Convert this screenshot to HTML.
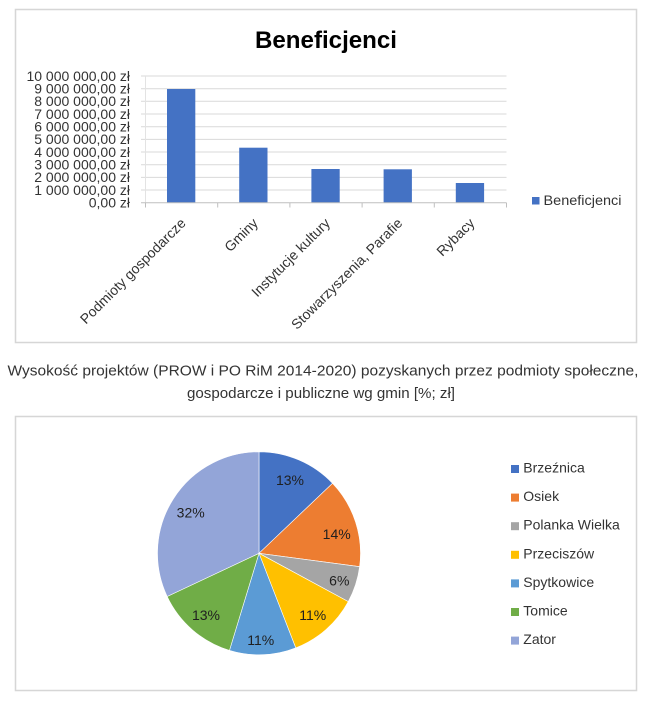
<!DOCTYPE html>
<html>
<head>
<meta charset="utf-8">
<style>
html,body{margin:0;padding:0;background:#fff;}
svg{display:block;}
text{font-family:"Liberation Sans","DejaVu Sans",sans-serif;}
</style>
</head>
<body>
<svg width="648" height="702" viewBox="0 0 648 702" xmlns="http://www.w3.org/2000/svg">
  <rect x="0" y="0" width="648" height="702" fill="#fff"/>

  <!-- ===== Top chart frame ===== -->
  <rect x="15.5" y="9.5" width="621" height="333" fill="#fff" stroke="#d6d6d6" stroke-width="1.5"/>

  <!-- Title -->
  <text x="326" y="48" font-size="24" font-weight="bold" fill="#000" text-anchor="middle" textLength="142" lengthAdjust="spacingAndGlyphs">Beneficjenci</text>

  <!-- Gridlines -->
  <g stroke="#d9d9d9" stroke-width="1">
    <line x1="141" y1="76" x2="506.5" y2="76"/>
    <line x1="141" y1="88.7" x2="506.5" y2="88.7"/>
    <line x1="141" y1="101.3" x2="506.5" y2="101.3"/>
    <line x1="141" y1="114" x2="506.5" y2="114"/>
    <line x1="141" y1="126.7" x2="506.5" y2="126.7"/>
    <line x1="141" y1="139.4" x2="506.5" y2="139.4"/>
    <line x1="141" y1="152" x2="506.5" y2="152"/>
    <line x1="141" y1="164.7" x2="506.5" y2="164.7"/>
    <line x1="141" y1="177.4" x2="506.5" y2="177.4"/>
    <line x1="141" y1="190" x2="506.5" y2="190"/>
  </g>
  <line x1="145.5" y1="76" x2="145.5" y2="202.7" stroke="#e3e3e3" stroke-width="1"/>

  <!-- Bars -->
  <g fill="#4472c4">
    <rect x="167" y="89" width="28.3" height="113.7"/>
    <rect x="239.2" y="147.7" width="28.3" height="55"/>
    <rect x="311.4" y="169" width="28.3" height="33.7"/>
    <rect x="383.6" y="169.3" width="28.3" height="33.4"/>
    <rect x="455.8" y="183" width="28.3" height="19.7"/>
  </g>

  <!-- X axis -->
  <g stroke="#bfbfbf" stroke-width="1">
    <line x1="141" y1="202.7" x2="506.5" y2="202.7"/>
    <line x1="145.5" y1="202.7" x2="145.5" y2="207.5"/>
    <line x1="217.7" y1="202.7" x2="217.7" y2="207.5"/>
    <line x1="289.9" y1="202.7" x2="289.9" y2="207.5"/>
    <line x1="362.1" y1="202.7" x2="362.1" y2="207.5"/>
    <line x1="434.3" y1="202.7" x2="434.3" y2="207.5"/>
    <line x1="506.5" y1="202.7" x2="506.5" y2="207.5"/>
  </g>

  <!-- Y labels -->
  <g font-size="14" fill="#333" text-anchor="end">
    <text x="130" y="80.8">10 000 000,00 zł</text>
    <text x="130" y="93.5">9 000 000,00 zł</text>
    <text x="130" y="106.1">8 000 000,00 zł</text>
    <text x="130" y="118.8">7 000 000,00 zł</text>
    <text x="130" y="131.5">6 000 000,00 zł</text>
    <text x="130" y="144.2">5 000 000,00 zł</text>
    <text x="130" y="156.8">4 000 000,00 zł</text>
    <text x="130" y="169.5">3 000 000,00 zł</text>
    <text x="130" y="182.2">2 000 000,00 zł</text>
    <text x="130" y="194.8">1 000 000,00 zł</text>
    <text x="130" y="207.5">0,00 zł</text>
  </g>

  <!-- Category labels -->
  <g font-size="14" fill="#333" text-anchor="end">
    <text transform="translate(186.6,224) rotate(-45)" x="0" y="0">Podmioty gospodarcze</text>
    <text transform="translate(258.8,224) rotate(-45)" x="0" y="0">Gminy</text>
    <text transform="translate(331,224) rotate(-45)" x="0" y="0">Instytucje kultury</text>
    <text transform="translate(403.2,224) rotate(-45)" x="0" y="0">Stowarzyszenia, Parafie</text>
    <text transform="translate(475.4,224) rotate(-45)" x="0" y="0">Rybacy</text>
  </g>

  <!-- Legend top -->
  <rect x="532" y="197" width="7.5" height="7.5" fill="#4472c4"/>
  <text x="543.5" y="205" font-size="14" fill="#333" textLength="78" lengthAdjust="spacingAndGlyphs">Beneficjenci</text>

  <!-- ===== Caption ===== -->
  <text x="323" y="375.5" font-size="15" fill="#333" text-anchor="middle" textLength="631" lengthAdjust="spacingAndGlyphs">Wysokość projektów (PROW i PO RiM 2014-2020) pozyskanych przez podmioty społeczne,</text>
  <text x="321" y="398" font-size="15" fill="#333" text-anchor="middle" textLength="268" lengthAdjust="spacingAndGlyphs">gospodarcze i publiczne wg gmin [%; zł]</text>

  <!-- ===== Pie chart frame ===== -->
  <rect x="15.5" y="416.5" width="621" height="274" fill="#fff" stroke="#d6d6d6" stroke-width="1.5"/>

  <!-- Pie slices -->
  <g stroke="#fff" stroke-width="0.6">
    <path d="M259,553.3 L259,451.8 A101.5,101.5 0 0 1 332.53,483.33 Z" fill="#4472c4"/>
    <path d="M259,553.3 L332.53,483.33 A101.5,101.5 0 0 1 359.62,566.66 Z" fill="#ed7d31"/>
    <path d="M259,553.3 L359.62,566.66 A101.5,101.5 0 0 1 348.26,601.64 Z" fill="#a5a5a5"/>
    <path d="M259,553.3 L348.26,601.64 A101.5,101.5 0 0 1 295.76,647.91 Z" fill="#ffc000"/>
    <path d="M259,553.3 L295.76,647.91 A101.5,101.5 0 0 1 229.46,650.40 Z" fill="#5b9bd5"/>
    <path d="M259,553.3 L229.46,650.40 A101.5,101.5 0 0 1 167.16,596.52 Z" fill="#70ad47"/>
    <path d="M259,553.3 L167.16,596.52 A101.5,101.5 0 0 1 259,451.8 Z" fill="#93a5d8"/>
  </g>

  <!-- Pie labels -->
  <g font-size="14" fill="#1f1f1f" text-anchor="middle">
    <text x="290" y="485">13%</text>
    <text x="336.7" y="539">14%</text>
    <text x="339.3" y="585.7">6%</text>
    <text x="312.7" y="620">11%</text>
    <text x="260.7" y="645">11%</text>
    <text x="206" y="620">13%</text>
    <text x="190.7" y="517.3">32%</text>
  </g>

  <!-- Pie legend -->
  <g font-size="14" fill="#333">
    <rect x="511" y="465" width="8" height="8" fill="#4472c4"/>
    <text x="523.3" y="472.5">Brzeźnica</text>
    <rect x="511" y="493.6" width="8" height="8" fill="#ed7d31"/>
    <text x="523.3" y="501.1">Osiek</text>
    <rect x="511" y="522.2" width="8" height="8" fill="#a5a5a5"/>
    <text x="523.3" y="529.7">Polanka Wielka</text>
    <rect x="511" y="550.8" width="8" height="8" fill="#ffc000"/>
    <text x="523.3" y="558.3">Przeciszów</text>
    <rect x="511" y="579.4" width="8" height="8" fill="#5b9bd5"/>
    <text x="523.3" y="586.9">Spytkowice</text>
    <rect x="511" y="608" width="8" height="8" fill="#70ad47"/>
    <text x="523.3" y="615.5">Tomice</text>
    <rect x="511" y="636.6" width="8" height="8" fill="#93a5d8"/>
    <text x="523.3" y="644.1">Zator</text>
  </g>
</svg>
</body>
</html>
